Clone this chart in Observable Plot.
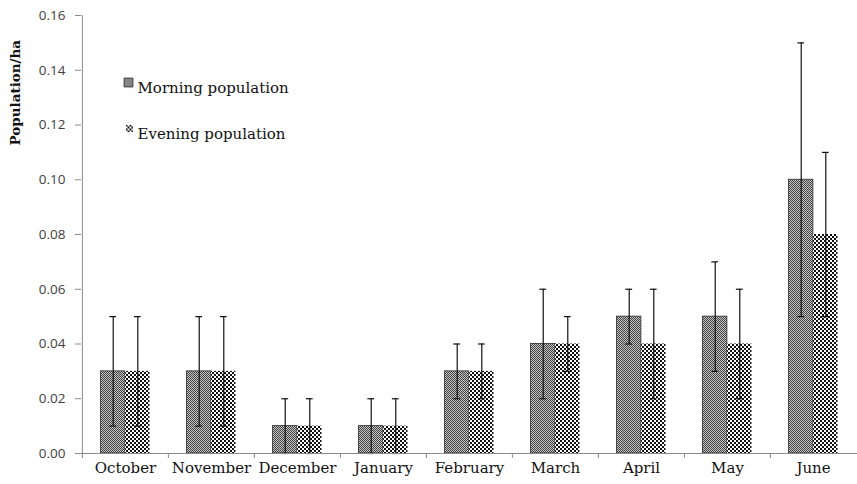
<!DOCTYPE html>
<html><head><meta charset="utf-8">
<script src="https://cdn.jsdelivr.net/npm/d3@7"></script>
<script src="https://cdn.jsdelivr.net/npm/@observablehq/plot@0.6"></script>
<style>
body{margin:0;background:#fff}
#chart{width:857px;height:484px}
</style></head><body><div id="chart"></div>
<script>
// ---- data ----
const months = ["October","November","December","January","February","March","April","May","June"];
const morning    = [0.03, 0.03, 0.01, 0.01, 0.03, 0.04, 0.05, 0.05, 0.10];
const morningErr = [0.02, 0.02, 0.01, 0.01, 0.01, 0.02, 0.01, 0.02, 0.05];
const evening    = [0.03, 0.03, 0.01, 0.01, 0.03, 0.04, 0.04, 0.04, 0.08];
const eveningErr = [0.02, 0.02, 0.01, 0.01, 0.01, 0.01, 0.02, 0.02, 0.03];
const yTicks = [0, 0.02, 0.04, 0.06, 0.08, 0.10, 0.12, 0.14, 0.16];
const seriesLabels = ["Morning population", "Evening population"];
const yLabel = "Population/ha";

// ---- table ----
const data = months.map((m, i) => ({
  month: m,
  morning: morning[i], mLo: morning[i] - morningErr[i], mHi: morning[i] + morningErr[i],
  evening: evening[i], eLo: evening[i] - eveningErr[i], eHi: evening[i] + eveningErr[i]
}));

// ---- layout ----
const W = 857, H = 484, ML = 81, MR = 0, MT = 15, MB = 31;
const bw = (W - ML - MR) / months.length;
const barW = bw * 0.285;
const capW = 7;
const serif = "DejaVu Serif";
const sans = "Open Sans";

const plot = Plot.plot({
  width: W, height: H,
  marginLeft: ML, marginRight: MR, marginTop: MT, marginBottom: MB,
  style: {background: "#fff", overflow: "visible"},
  x: {domain: months, paddingInner: 0, paddingOuter: 0, axis: null},
  y: {domain: [0, 0.16], axis: null},
  marks: [
    // bars
    Plot.barY(data, {x: "month", y: "morning", fill: "url(#pMorning)", stroke: "#2a2a2a", strokeWidth: 0.8,
      insetLeft: bw / 2 - barW, insetRight: bw / 2}),
    Plot.barY(data, {x: "month", y: "evening", fill: "url(#pEvening)",
      insetLeft: bw / 2, insetRight: bw / 2 - barW}),
    // error bars
    Plot.ruleX(data, {x: "month", y1: "mLo", y2: "mHi", dx: -barW / 2, stroke: "#111", strokeWidth: 1.2}),
    Plot.tickY(data, {x: "month", y: "mHi", stroke: "#111", strokeWidth: 1.2,
      insetLeft: bw / 2 - barW / 2 - capW / 2, insetRight: bw / 2 + barW / 2 - capW / 2}),
    Plot.tickY(data, {x: "month", y: "mLo", stroke: "#111", strokeWidth: 1.2,
      insetLeft: bw / 2 - barW / 2 - capW / 2, insetRight: bw / 2 + barW / 2 - capW / 2}),
    Plot.ruleX(data, {x: "month", y1: "eLo", y2: "eHi", dx: barW / 2, stroke: "#111", strokeWidth: 1.2}),
    Plot.tickY(data, {x: "month", y: "eHi", stroke: "#111", strokeWidth: 1.2,
      insetLeft: bw / 2 + barW / 2 - capW / 2, insetRight: bw / 2 - barW / 2 - capW / 2}),
    Plot.tickY(data, {x: "month", y: "eLo", stroke: "#111", strokeWidth: 1.2,
      insetLeft: bw / 2 + barW / 2 - capW / 2, insetRight: bw / 2 - barW / 2 - capW / 2}),
    // axes
    Plot.ruleY([0], {stroke: "#8a8a8a"}),
    Plot.ruleX([months[0]], {dx: -bw / 2, y1: 0, y2: yTicks[yTicks.length - 1], stroke: "#8a8a8a"}),
    Plot.axisY(yTicks, {tickSize: 6, tickPadding: 10, tickFormat: d3.format(".2f"), stroke: "#8a8a8a",
      fill: "#404040", fontSize: 13.5, fontFamily: sans, label: null}),
    Plot.axisX(months, {tickSize: 5, tickFormat: () => "", dx: -bw / 2, stroke: "#8a8a8a", label: null}),
    Plot.axisX(months, {tickSize: 0, tickPadding: 9, fill: "#111", fontSize: 15, fontFamily: serif, label: null}),
    Plot.text([yLabel], {frameAnchor: "left", rotate: -90, dx: 15 - ML, dy: -89, fontSize: 13.5,
      fontWeight: "bold", fontFamily: serif, fill: "#111"}),
    // legend
    Plot.dot([seriesLabels[0]], {frameAnchor: "top-left", dx: 128 - ML, dy: 82 - MT, symbol: "square", r: 5,
      fill: "url(#pMorning)", stroke: "#222", strokeWidth: 0.8}),
    Plot.text([seriesLabels[0]], {frameAnchor: "top-left", text: d => d, dx: 137 - ML, dy: 82 - MT,
      textAnchor: "start", fontSize: 15, fontFamily: serif, fill: "#111"}),
    Plot.dot([seriesLabels[1]], {frameAnchor: "top-left", dx: 129 - ML, dy: 128 - MT, symbol: "square", r: 4,
      fill: "url(#pEvening)"}),
    Plot.text([seriesLabels[1]], {frameAnchor: "top-left", text: d => d, dx: 137 - ML, dy: 128 - MT,
      textAnchor: "start", fontSize: 15, fontFamily: serif, fill: "#111"})
  ]
});

// patterns
const svg = d3.select(plot);
const defs = svg.insert("defs", ":first-child");
const pm = defs.append("pattern").attr("id", "pMorning").attr("patternUnits", "userSpaceOnUse")
  .attr("width", 2).attr("height", 2);
pm.append("rect").attr("width", 2).attr("height", 2).attr("fill", "#c4c4c4");
pm.append("rect").attr("width", 1).attr("height", 1).attr("fill", "#444");
pm.append("rect").attr("x", 1).attr("y", 1).attr("width", 1).attr("height", 1).attr("fill", "#444");
const pe = defs.append("pattern").attr("id", "pEvening").attr("patternUnits", "userSpaceOnUse")
  .attr("width", 4).attr("height", 4);
pe.append("rect").attr("width", 4).attr("height", 4).attr("fill", "#fff");
pe.append("rect").attr("width", 2).attr("height", 2).attr("fill", "#111");
pe.append("rect").attr("x", 2).attr("y", 2).attr("width", 2).attr("height", 2).attr("fill", "#111");

document.getElementById("chart").appendChild(plot);
</script></body></html>
